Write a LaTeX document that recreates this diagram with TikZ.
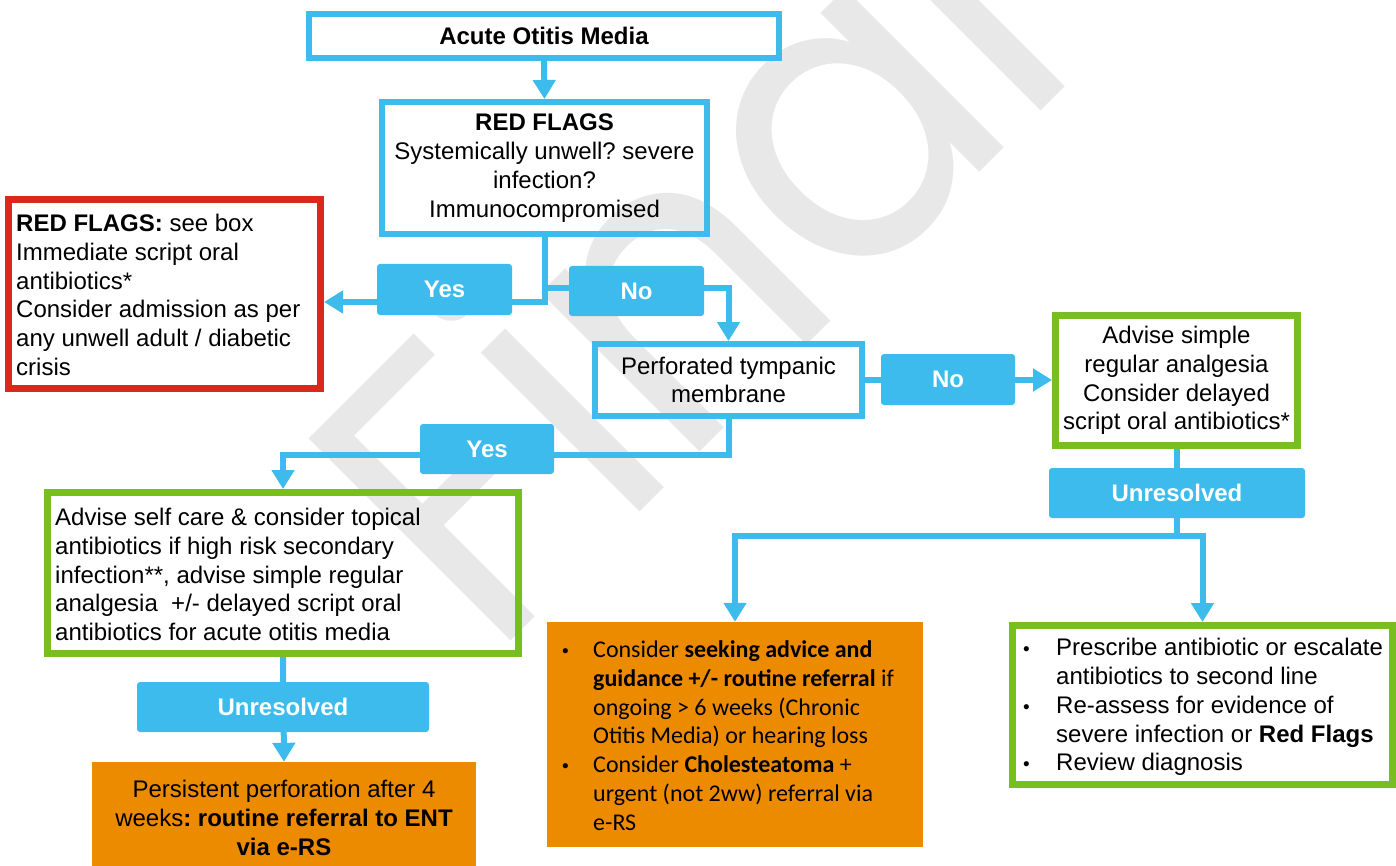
\documentclass[tikz,border=0pt]{standalone}
\usepackage{fontspec}
\setmainfont{Liberation Sans}
\newfontfamily\calibri{Carlito}
\newfontfamily\wmfont{Poppins}
\usetikzlibrary{arrows.meta}
\frenchspacing

\definecolor{flowblue}{HTML}{3DBBEC}
\definecolor{flowgreen}{HTML}{78BE20}
\definecolor{flowred}{HTML}{DA291C}
\definecolor{floworange}{HTML}{ED8B00}
\definecolor{wmgray}{HTML}{E8E8E8}

\pgfdeclarelayer{wm}
\pgfdeclarelayer{links}
\pgfsetlayers{wm,links,main}

% bullet rows for the list boxes
\newcommand\flowdot{{\fontspec{Liberation Sans}\fontsize{19}{19}\selectfont\textbullet}}
\newcommand\flowbullet[2]{\makebox[#1][l]{\flowdot}#2}
\newcommand\flowindent[2]{\hspace*{#1}#2}

\tikzset{
  every node/.style={font=\fontsize{24}{28.8}\selectfont},
  bluebox/.style={draw=flowblue, line width=6pt, inner sep=0pt},
  greenbox/.style={draw=flowgreen, line width=7pt, inner sep=0pt},
  redbox/.style={draw=flowred, line width=7pt, inner sep=0pt},
  orangebox/.style={fill=floworange, inner sep=0pt},
  tag/.style={fill=flowblue, rounded corners=3pt, text=white, inner sep=0pt,
    font=\fontsize{24}{28.8}\selectfont\bfseries},
  body/.style={inner sep=0pt, align=left},
  link/.style={draw=flowblue, line width=6pt},
  linkarrow/.style={link, -{Triangle[length=19pt,width=22pt]}},
}

\begin{document}
\begin{tikzpicture}[x=1pt,y=-1pt]
\useasboundingbox (0,0) rectangle (1396,866);

% boxes
\node[bluebox, minimum width=470pt, minimum height=44pt,
  font=\fontsize{24}{28.8}\selectfont\bfseries] (aom) at (544,36) {Acute Otitis Media};
\node[bluebox, minimum width=325pt, minimum height=132pt, align=center] (rf) at (544.5,168)
  {\textbf{RED FLAGS}\\Systemically unwell? severe\\infection?\\Immunocompromised};

\node[redbox, minimum width=312.5pt, minimum height=189pt] (act) at (164.25,294) {};
\node[body, anchor=west] (actt) at (16,295)
  {\textbf{RED FLAGS:} see box\\Immediate script oral\\antibiotics*\\Consider admission as per\\any unwell adult / diabetic\\crisis};

\node[tag, minimum width=135pt, minimum height=51pt] (yes1) at (444.5,289.5) {Yes};
\node[tag, minimum width=135pt, minimum height=50pt] (no1) at (636.5,291) {No};

\node[bluebox, minimum width=267pt, minimum height=72pt, align=center] (perf) at (728.5,380)
  {Perforated tympanic\\membrane};
\node[tag, minimum width=134pt, minimum height=51pt] (no2) at (948,379.5) {No};

\node[greenbox, minimum width=242pt, minimum height=130pt, align=center] (g2) at (1176.5,380.5)
  {Advise simple\\regular analgesia\\Consider delayed\\script oral antibiotics*};

\node[tag, minimum width=134pt, minimum height=50pt] (yes2) at (487,449) {Yes};

\node[greenbox, minimum width=471pt, minimum height=161pt] (g1) at (283,573) {};
\node[body, anchor=west] (g1t) at (55,574.5)
  {Advise self care \& consider topical\\antibiotics if high risk secondary\\infection**, advise simple regular\\analgesia \ +/- delayed script oral\\antibiotics for acute otitis media};

\node[tag, minimum width=256pt, minimum height=50pt] (un2) at (1177,493) {Unresolved};
\node[tag, minimum width=292pt, minimum height=50pt] (un1) at (283,707) {Unresolved};

\node[orangebox, minimum width=384pt, minimum height=112pt, align=center] (o1) at (284,818)
  {Persistent perforation after 4\\weeks\textbf{: routine referral to ENT}\\\textbf{via e-RS}};

\node[orangebox, minimum width=376pt, minimum height=225pt] (o2) at (735,734.5) {};
\node[body, anchor=west, font=\calibri\fontsize{24}{28.8}\selectfont] (o2t) at (562,735.5)
  {\flowbullet{31pt}{Consider \textbf{seeking advice and}}\\
   \flowindent{31pt}{\textbf{guidance +/- routine referral} if}\\
   \flowindent{31pt}{ongoing > 6 weeks (Chronic}\\
   \flowindent{31pt}{Otitis Media) or hearing loss}\\
   \flowbullet{31pt}{Consider \textbf{Cholesteatoma} +}\\
   \flowindent{31pt}{urgent (not 2ww) referral via}\\
   \flowindent{31pt}{e-RS}};

\node[greenbox, minimum width=380pt, minimum height=159pt] (g3) at (1202.5,705) {};
\node[body, anchor=west] (g3t) at (1023,707)
  {\flowbullet{33pt}{Prescribe antibiotic or escalate}\\
   \flowindent{33pt}{antibiotics to second line}\\
   \flowbullet{33pt}{Re-assess for evidence of}\\
   \flowindent{33pt}{severe infection or \textbf{Red Flags}}\\
   \flowbullet{33pt}{Review diagnosis}};

% connectors
\begin{pgfonlayer}{links}
  \draw[linkarrow] (aom.south) -- (rf.north);
  \coordinate (rfyes) at (rf.south |- 0,302);
  \coordinate (rfno) at (rf.south |- 0,288);
  \draw[linkarrow] (rf.south) -- (rfyes) -- (rfyes -| act.east);
  \draw[linkarrow] (rfno) -- (rfno -| perf.north) -- (perf.north);
  \draw[linkarrow] (perf.east) -- (perf.east -| g2.west);
  \coordinate (perfyes) at (perf.south |- 0,455);
  \draw[linkarrow] (perf.south) -- (perfyes) -| (g1.north);
  \draw[linkarrow] (g1.south) -- (o1.north);
  \coordinate (split) at (g2.south |- 0,536);
  \draw[link] (g2.south) -- (split);
  \draw[linkarrow] (split) -| (o2.north);
  \draw[linkarrow] (split) -| (g3.north);
\end{pgfonlayer}

% watermark, a little narrower and tighter than the font's own spacing
\begin{pgfonlayer}{wm}
  \node[text=wmgray, font=\wmfont\fontsize{410}{410}\selectfont, anchor=base west,
    rotate=45, xscale=0.92, inner sep=0pt] (wm) at (490,662)
    {F\kern-8pt i\kern-8pt n\kern-10pt a\kern-6pt l};
\end{pgfonlayer}
\end{tikzpicture}
\end{document}
